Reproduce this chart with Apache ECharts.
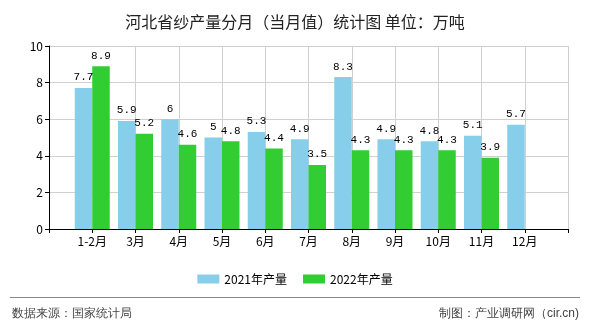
<!DOCTYPE html>
<html>
<head>
<meta charset="utf-8">
<script src="https://cdn.jsdelivr.net/npm/echarts@6/dist/echarts.min.js"></script>
<style>html,body{margin:0;padding:0;background:#fff}#c{width:590px;height:330px}</style>
</head>
<body>
<div id="c"></div>
<script>
var categories = ['1-2月','3月','4月','5月','6月','7月','8月','9月','10月','11月','12月'];
var values2021 = [7.7, 5.9, 6, 5, 5.3, 4.9, 8.3, 4.9, 4.8, 5.1, 5.7];
var values2022 = [8.9, 5.2, 4.6, 4.8, 4.4, 3.5, 4.3, 4.3, 4.3, 3.9];
var seriesNames = ['2021年产量', '2022年产量'];
var yTicks = [0, 2, 4, 6, 8, 10];

function pad(arr) {
  var out = [null];
  for (var i = 0; i < categories.length; i++) out.push(i < arr.length ? arr[i] : null);
  out.push(null);
  return out;
}
var axisCats = [''].concat(categories).concat(['']);

var chart = echarts.init(document.getElementById('c'), null, {renderer: 'canvas'});
var cjk = '"Noto Sans CJK SC", sans-serif';
var mono = '"Liberation Mono", "DejaVu Sans Mono", monospace';
var labelCfg = {show: true, position: 'top', distance: 5, color: '#000', fontFamily: mono, fontSize: 11,
  formatter: function (p) { return p.value == null ? '' : String(p.value); }};

chart.setOption({
  animation: false,
  backgroundColor: '#fff',
  title: {
    text: '河北省纱产量分月（当月值）统计图 单位：万吨',
    left: 'center', top: 9,
    textStyle: {fontSize: 16, fontWeight: 'normal', color: '#222', fontFamily: cjk}
  },
  legend: {
    data: seriesNames,
    top: 268, left: 'center',
    icon: 'rect', itemWidth: 22, itemHeight: 9, itemGap: 16,
    textStyle: {fontSize: 12, color: '#000', fontFamily: cjk}
  },
  grid: {left: 49, right: 22, top: 46, bottom: 101},
  xAxis: {
    type: 'category',
    data: axisCats,
    boundaryGap: false,
    axisLine: {lineStyle: {color: '#000', width: 1}},
    axisTick: {show: true, interval: 0, length: 4, lineStyle: {color: '#000'}},
    axisLabel: {interval: 0, color: '#000', fontSize: 12, fontFamily: cjk, margin: 6},
    splitLine: {show: true, interval: function (i) { return i >= 2; }, lineStyle: {color: '#d0d0d0', width: 1}}
  },
  yAxis: {
    type: 'value',
    min: yTicks[0], max: yTicks[yTicks.length - 1], interval: 2,
    axisLine: {show: true, lineStyle: {color: '#000', width: 1}},
    axisTick: {show: true, length: 4, lineStyle: {color: '#000'}},
    axisLabel: {color: '#000', fontSize: 12, fontFamily: cjk, margin: 6},
    splitLine: {show: true, lineStyle: {color: '#d0d0d0', width: 1}}
  },
  series: [
    {name: seriesNames[0], type: 'bar', data: pad(values2021), barWidth: 17.5, barGap: '0%',
     itemStyle: {color: '#87CEEB'}, label: labelCfg},
    {name: seriesNames[1], type: 'bar', data: pad(values2022), barWidth: 17.5, barGap: '0%',
     itemStyle: {color: '#32CD32'}, label: labelCfg}
  ],
  graphic: [
    {type: 'line', shape: {x1: 10, y1: 297.5, x2: 580, y2: 297.5}, style: {stroke: '#888', lineWidth: 1}},
    {type: 'text', left: 12, top: 308, style: {text: '数据来源：国家统计局', fontSize: 12, fill: '#444', font: '12px ' + cjk}},
    {type: 'text', right: 11, top: 308, style: {text: '制图：产业调研网（cir.cn)', fontSize: 12, fill: '#444', font: '12px ' + cjk}}
  ]
});
</script>
</body>
</html>
